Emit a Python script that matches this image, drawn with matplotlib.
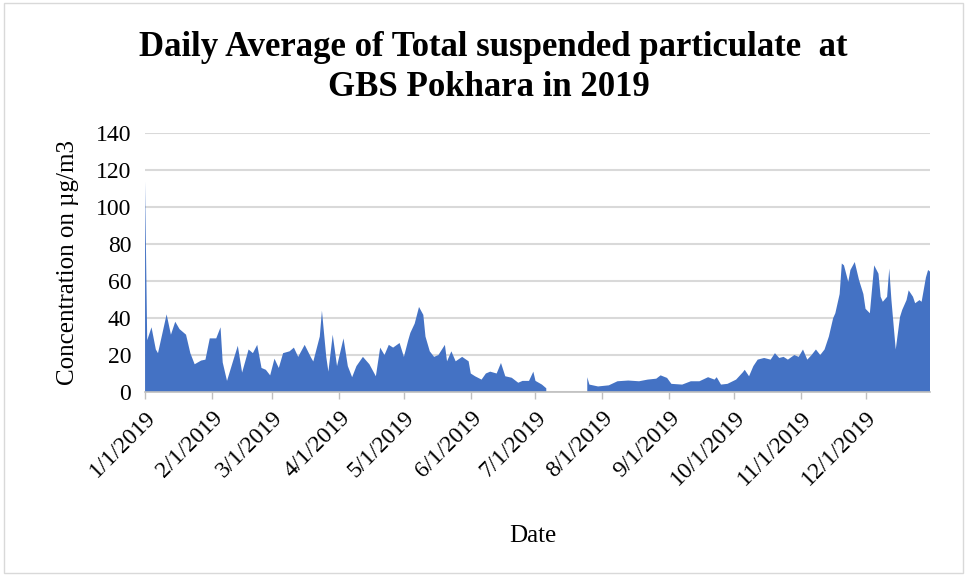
import numpy as np
import pandas as pd
import matplotlib
matplotlib.use("Agg")
import matplotlib.pyplot as plt
from matplotlib.patches import Rectangle

plt.rcParams['font.family'] = ['Liberation Serif', 'DejaVu Serif']

# ---- data ----
dates = [
    "01-01", "01-02", "01-04", "01-06", "01-07", "01-11", "01-13", "01-15", "01-17", "01-20",
    "01-22", "01-24", "01-27", "01-29", "01-31", "02-03", "02-05", "02-06", "02-08", "02-11",
    "02-13", "02-15", "02-18", "02-20", "02-22", "02-24", "02-26", "02-28", "03-02", "03-04",
    "03-06", "03-09", "03-11", "03-13", "03-16", "03-19", "03-20", "03-23", "03-24", "03-26",
    "03-27", "03-29", "03-31", "04-03", "04-05", "04-07", "04-09", "04-12", "04-15", "04-18",
    "04-20", "04-22", "04-24", "04-26", "04-29", "05-01", "05-03", "05-04", "05-06", "05-08",
    "05-10", "05-11", "05-13", "05-15", "05-17", "05-20", "05-21", "05-23", "05-25", "05-28",
    "05-31", "06-01", "06-03", "06-06", "06-08", "06-10", "06-13", "06-15", "06-17", "06-20",
    "06-23", "06-25", "06-28", "06-30", "07-01", "07-04", "07-05", "07-06", "07-07", "07-24",
    "07-25", "07-26", "07-30", "08-04", "08-08", "08-13", "08-18", "08-22", "08-26", "08-28",
    "08-31", "09-02", "09-07", "09-11", "09-15", "09-19", "09-22", "09-23", "09-25", "09-28",
    "10-02", "10-05", "10-06", "10-08", "10-10", "10-12", "10-15", "10-18", "10-20", "10-22",
    "10-24", "10-26", "10-29", "10-31", "11-02", "11-04", "11-06", "11-08", "11-10", "11-12",
    "11-14", "11-16", "11-17", "11-19", "11-20", "11-21", "11-23", "11-24", "11-26", "11-28",
    "11-30", "12-01", "12-03", "12-05", "12-07", "12-08", "12-09", "12-11", "12-12", "12-13",
    "12-15", "12-17", "12-18", "12-20", "12-21", "12-23", "12-24", "12-26", "12-27", "12-29",
    "12-30", "12-31",
]
tsp = [
    114, 28, 35, 23, 21, 42, 31, 38, 34, 31,
    21, 15, 17, 17.5, 29, 29, 35, 16, 6, 17.5,
    25, 10.5, 23, 21, 25.5, 13, 12, 9, 18, 13,
    21, 22, 24, 19, 25.5, 18.5, 16.5, 30, 44, 19,
    11, 31, 14, 29, 14, 8, 14, 19, 15, 8.5,
    24, 20, 25.5, 24, 26.5, 19, 28, 32, 37, 46,
    41.7, 30, 22, 19, 20, 25.5, 16.6, 22, 16.6, 19,
    16.6, 10, 8.5, 6.7, 10, 11, 10, 15.7, 8.5, 7.7,
    5, 6, 6, 11, 6, 4, 3, 2, np.nan, np.nan,
    8, 4, 3, 3.6, 5.8, 6.2, 5.8, 6.7, 7.2, 9,
    7.6, 4.4, 4, 5.8, 5.8, 8, 6.7, 8, 4, 4.4,
    6.7, 10.5, 12, 8.5, 14, 17.5, 18.4, 17.5, 21, 18.4,
    19, 17.5, 20, 19, 23, 17.5, 20, 23, 20, 23,
    30, 40, 42.6, 53, 69.5, 68.5, 59.6, 66, 70.3, 60.5,
    53, 45, 42.6, 68.5, 64, 51.5, 48.8, 51.5, 66.8, 49.7,
    23, 40.7, 44.4, 49.7, 55, 51.5, 48, 49.7, 48.8, 62,
    66, 65,
]
tick_dates = ["01-01", "02-01", "03-01", "04-01", "05-01", "06-01",
              "07-01", "08-01", "09-01", "10-01", "11-01", "12-01"]
tick_labels = ["1/1/2019", "2/1/2019", "3/1/2019", "4/1/2019", "5/1/2019", "6/1/2019",
               "7/1/2019", "8/1/2019", "9/1/2019", "10/1/2019", "11/1/2019", "12/1/2019"]
y_ticks = [0, 20, 40, 60, 80, 100, 120, 140]

x = pd.to_datetime(["2019-" + d for d in dates])
y = np.array(tsp, dtype=float)
xt = pd.to_datetime(["2019-" + d for d in tick_dates])

fig = plt.figure(figsize=(9.67, 5.79), dpi=100)
ax = fig.add_axes([0.150, 0.323, 0.812, 0.447])

ax.fill_between(x, 0, y, color="#4472C4", linewidth=0, zorder=3)

ax.set_xlim(pd.Timestamp("2019-01-01"), pd.Timestamp("2019-12-31"))
ax.set_ylim(0, 140)
ax.set_yticks(y_ticks)
ax.set_xticks(xt)
ax.set_xticklabels(tick_labels, rotation=45, ha="right", rotation_mode="anchor", fontsize=17)
ax.tick_params(axis="y", length=0, labelsize=17, pad=10)
ax.tick_params(axis="x", length=5, color="#BFBFBF", width=1, pad=6)
ax.grid(axis="y", color="#D9D9D9", linewidth=1.5, zorder=0)
for s in ["top", "right", "left"]:
    ax.spines[s].set_visible(False)
ax.spines["bottom"].set_color("#BFBFBF")
ax.spines["bottom"].set_linewidth(1.2)
ax.spines["bottom"].set_zorder(4)

ax.set_ylabel("Concentration on µg/m3", fontsize=18, labelpad=12)
fig.text(0.551, 0.075, "Date", ha="center", va="center", fontsize=18)

fig.text(0.510, 0.918, "Daily Average of Total suspended particulate  at",
         ha="center", va="center", fontsize=25, fontweight="bold")
fig.text(0.506, 0.849, "GBS Pokhara in 2019",
         ha="center", va="center", fontsize=25, fontweight="bold")

fig.patches.append(Rectangle((0.004, 0.01), 0.992, 0.985, transform=fig.transFigure,
                             fill=False, edgecolor="#D9D9D9", linewidth=1))

fig.savefig("out.png", dpi=100, facecolor="white")
